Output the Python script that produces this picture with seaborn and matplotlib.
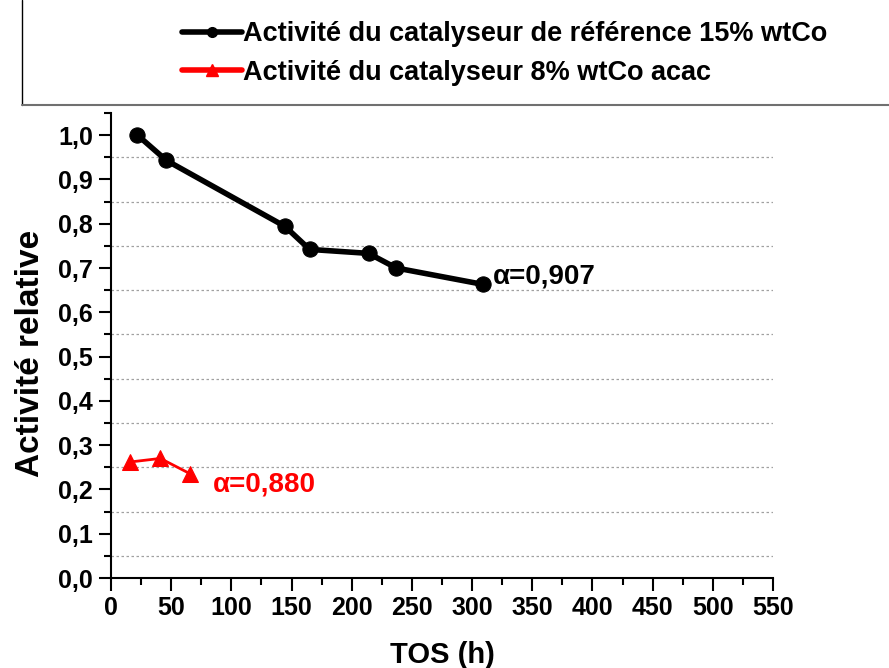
import matplotlib
matplotlib.use("Agg")
import matplotlib.pyplot as plt
from matplotlib.lines import Line2D
from matplotlib.ticker import MultipleLocator, FuncFormatter
import seaborn as sns
import pandas as pd

# Relative activity vs time on stream
ref_tos = [22, 46, 144.5, 165, 214, 237, 309]
ref_act = [1.0, 0.943, 0.794, 0.742, 0.733, 0.700, 0.663]
acac_tos = [16, 41, 66]
acac_act = [0.262, 0.27, 0.235]

ref_label = "Activité du catalyseur de référence 15% wtCo"
acac_label = "Activité du catalyseur 8% wtCo acac"
ref_alpha = "α=0,907"
acac_alpha = "α=0,880"

sns.set_style("white")
plt.rcParams["font.family"] = ["Liberation Sans", "DejaVu Sans"]
plt.rcParams.update({"text.color": "black", "axes.labelcolor": "black",
                     "xtick.color": "black", "ytick.color": "black"})

fig = plt.figure(figsize=(8.89, 6.68), dpi=100)
ax = fig.add_axes([111 / 889, 1 - 578 / 668, 662 / 889, 465 / 668])

df_ref = pd.DataFrame({"TOS": ref_tos, "act": ref_act})
df_acac = pd.DataFrame({"TOS": acac_tos, "act": acac_act})

sns.lineplot(data=df_ref, x="TOS", y="act", ax=ax, color="black", lw=4,
             marker="o", markersize=11, markeredgecolor="black", zorder=3)
sns.lineplot(data=df_acac, x="TOS", y="act", ax=ax, color="#ff0000", lw=2,
             marker="^", markersize=12, markeredgecolor="#ff0000", zorder=3)

ax.set_xlim(0, 550)
ax.set_ylim(0, 1.05)
ax.xaxis.set_major_locator(MultipleLocator(50))
ax.xaxis.set_minor_locator(MultipleLocator(25))
ax.yaxis.set_major_locator(MultipleLocator(0.1))
ax.yaxis.set_minor_locator(MultipleLocator(0.05))
ax.yaxis.set_major_formatter(FuncFormatter(lambda v, p: f"{v:.1f}".replace(".", ",")))

# dotted guides on the half steps
for yv in [0.05 + 0.1 * i for i in range(10)]:
    ax.axhline(yv, color="#a0a0a0", lw=0.9, ls=(0, (2, 2)), zorder=1)

for s in ["top", "right"]:
    ax.spines[s].set_visible(False)
for s in ["left", "bottom"]:
    ax.spines[s].set_color("black")
    ax.spines[s].set_linewidth(1.5)

ax.tick_params(axis="both", which="major", direction="out", length=9, width=1.5,
               labelsize=18, color="black", labelcolor="black",
               left=True, bottom=True, pad=4)
ax.tick_params(axis="both", which="minor", direction="out", length=5, width=1.5,
               color="black", left=True, bottom=True)
for lbl in ax.get_xticklabels() + ax.get_yticklabels():
    lbl.set_fontweight("bold")

ax.set_xlabel("TOS (h)", fontsize=21, fontweight="bold", color="black")
ax.set_ylabel("Activité relative", fontsize=24, fontweight="bold", color="black")
ax.xaxis.set_label_coords(0.5, -0.166)
ax.yaxis.set_label_coords(-0.122, 0.482)
ax.xaxis.label.set_va("center")
ax.yaxis.label.set_va("center")

ax.text(317, 0.68, ref_alpha, fontsize=20, fontweight="bold", color="black",
        va="center", ha="left")
ax.text(85, 0.21, acac_alpha, fontsize=20, fontweight="bold", color="#ff0000",
        va="center", ha="left")

# legend panel
handles = [
    Line2D([], [], color="black", lw=4, marker="o", markersize=7),
    Line2D([], [], color="#ff0000", lw=4, marker="^", markersize=9),
]
leg = fig.legend(handles, [ref_label, acac_label], loc="upper left",
                 bbox_to_anchor=(158 / 889, 1 + 3 / 668), frameon=False,
                 handlelength=2.2, handletextpad=0.05, labelspacing=0.45,
                 prop={"family": ["Liberation Sans"], "weight": "bold", "size": 19.5})
for t in leg.get_texts():
    t.set_color("black")
fig.add_artist(Line2D([22 / 889, 22 / 889], [1, 1 - 105 / 668],
                      transform=fig.transFigure, color="black", lw=1))
fig.add_artist(Line2D([22 / 889, 1], [1 - 105 / 668, 1 - 105 / 668],
                      transform=fig.transFigure, color="#707070", lw=1.5))

fig.savefig("out.png", dpi=100)
